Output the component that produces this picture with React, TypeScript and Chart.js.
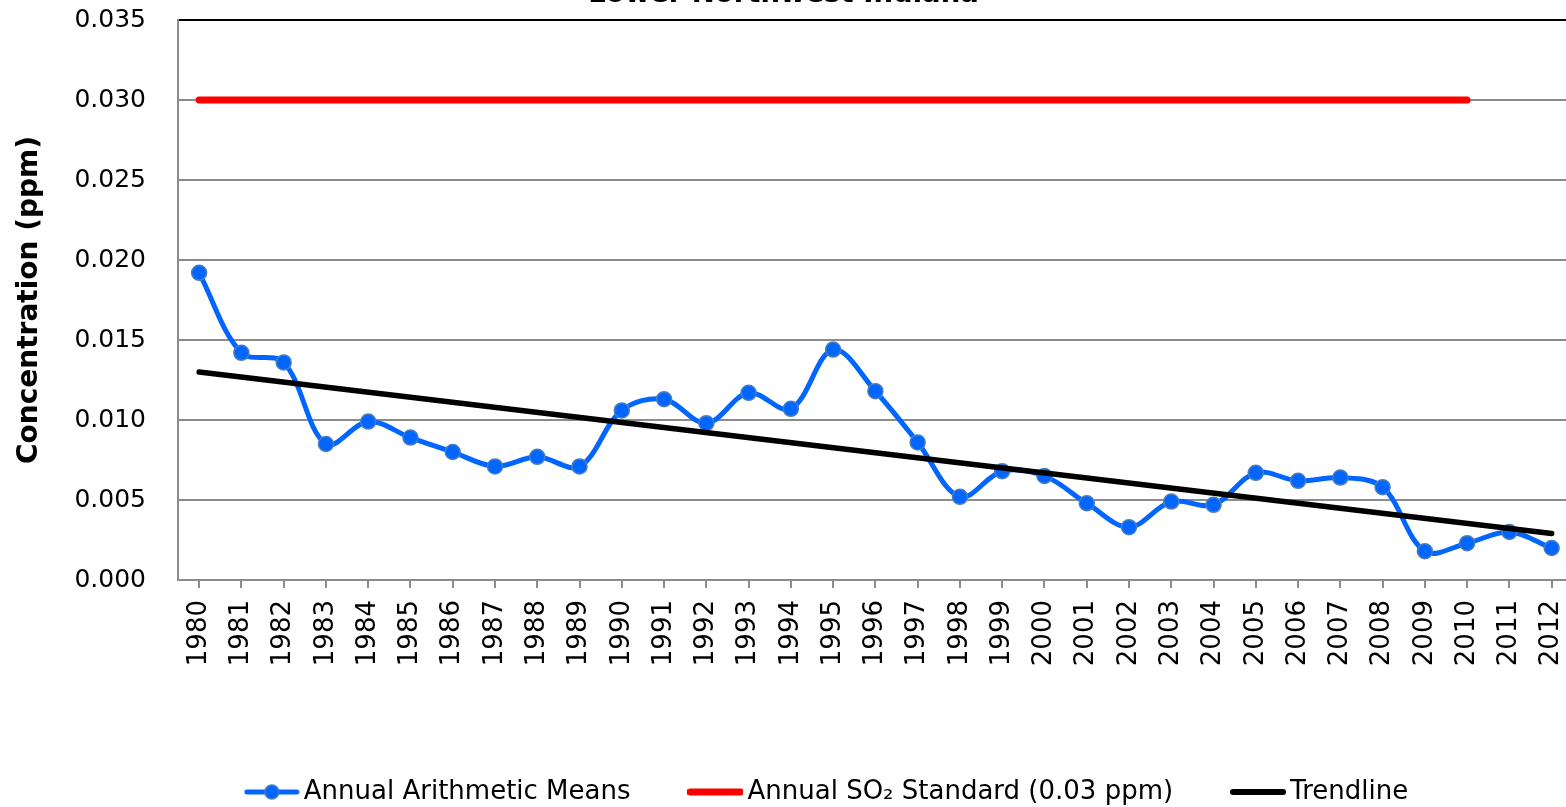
import React, { useEffect, useRef } from "react";
import { Chart, registerables } from "chart.js";

Chart.register(...registerables);

const years = ["1980","1981","1982","1983","1984","1985","1986","1987","1988","1989","1990","1991","1992","1993","1994","1995","1996","1997","1998","1999","2000","2001","2002","2003","2004","2005","2006","2007","2008","2009","2010","2011","2012"];

const annualMeans = [0.0192, 0.0142, 0.0136, 0.0085, 0.0099, 0.0089, 0.0080, 0.0071, 0.0077, 0.0071, 0.0106, 0.0113, 0.0098, 0.0117, 0.0107, 0.0144, 0.0118, 0.0086, 0.0052, 0.0068, 0.0065, 0.0048, 0.0033, 0.0049, 0.0047, 0.0067, 0.0062, 0.0064, 0.0058, 0.0018, 0.0023, 0.0030, 0.0020];

const standardYears = ["1980", "2010"];
const standardValues = [0.03, 0.03];

const trendYears = ["1980", "2012"];
const trendValues = [0.0130, 0.0029];

const yTicks = [0, 0.005, 0.01, 0.015, 0.02, 0.025, 0.03, 0.035];

const seriesNames = ["Annual Arithmetic Means", "Annual SO\u2082 Standard (0.03 ppm)", "Trendline"];
const titleText = "Lower Northwest Indiana";
const yTitle = "Concentration (ppm)";

const BLUE = "#0066FF";
const RED = "#FF0000";
const BLACK = "#000000";
const GRID = "#8c8c8c";
const FONT = "'DejaVu Sans', Verdana, sans-serif";

function makeSymbol(color: string, width: number, withMarker: boolean) {
  const c = document.createElement("canvas");
  c.width = 56;
  c.height = 20;
  const g = c.getContext("2d")!;
  g.strokeStyle = color;
  g.lineWidth = width;
  g.lineCap = "round";
  g.beginPath();
  g.moveTo(3, 10);
  g.lineTo(53, 10);
  g.stroke();
  if (withMarker) {
    g.beginPath();
    g.arc(28, 10, 7, 0, Math.PI * 2);
    g.fillStyle = BLUE;
    g.fill();
    g.lineWidth = 1.5;
    g.strokeStyle = "#4a7ebb";
    g.stroke();
  }
  return c;
}

const boxShift = {
  id: "boxShift",
  afterLayout(chart: any) {
    const l = chart.legend;
    if (l) {
      l.left += 33;
      l.right += 33;
    }
    const t = chart.titleBlock;
    if (t) {
      t.left -= 14;
      t.right -= 14;
    }
  },
};

export default function App() {
  const ref = useRef<HTMLCanvasElement>(null);

  useEffect(() => {
    if (!ref.current) return;
    const symbols = [
      makeSymbol(BLUE, 5, true),
      makeSymbol(RED, 7, false),
      makeSymbol(BLACK, 6, false),
    ];
    const chart = new Chart(ref.current, {
      type: "line",
      plugins: [boxShift],
      data: {
        labels: years,
        datasets: [
          {
            label: seriesNames[0],
            data: annualMeans,
            borderColor: BLUE,
            backgroundColor: BLUE,
            borderWidth: 5,
            tension: 0.35,
            pointRadius: 7.5,
            pointBorderWidth: 1.5,
            pointBorderColor: "#4a7ebb",
            pointBackgroundColor: BLUE,
            order: 3,
          },
          {
            label: seriesNames[1],
            data: standardYears.map((x, i) => ({ x, y: standardValues[i] })),
            borderColor: RED,
            backgroundColor: RED,
            borderWidth: 7,
            borderCapStyle: "round",
            pointRadius: 0,
            order: 1,
          },
          {
            label: seriesNames[2],
            data: trendYears.map((x, i) => ({ x, y: trendValues[i] })),
            borderColor: BLACK,
            backgroundColor: BLACK,
            borderWidth: 5.5,
            borderCapStyle: "round",
            pointRadius: 0,
            order: 2,
          },
        ],
      },
      options: {
        responsive: false,
        animation: false,
        events: [],
        layout: { padding: { left: 0, right: 0, top: 0, bottom: 15 } },
        plugins: {
          tooltip: { enabled: false },
          title: {
            display: true,
            text: titleText,
            color: "#000",
            font: { family: FONT, size: 27.5, weight: "bold" },
            padding: { top: 18, bottom: 9 },
          },
          legend: {
            display: true,
            position: "bottom",
            labels: {
              usePointStyle: true,
              pointStyleWidth: 38,
              padding: 66,
              color: "#000",
              font: { family: FONT, size: 26 },
              generateLabels: () =>
                seriesNames.map((name, i) => ({
                  text: name,
                  datasetIndex: i,
                  pointStyle: symbols[i] as any,
                  fillStyle: "transparent",
                  strokeStyle: "transparent",
                  lineWidth: 0,
                  hidden: false,
                  fontColor: "#000",
                })),
            },
          },
        },
        scales: {
          x: {
            type: "category",
            offset: true,
            afterFit: (s: any) => {
              s.height = 133;
            },
            grid: {
              offset: false,
              drawOnChartArea: false,
              drawTicks: true,
              tickLength: 8,
              color: GRID,
              lineWidth: 2,
            },
            border: { display: true, color: GRID, width: 2 },
            ticks: {
              autoSkip: false,
              minRotation: 90,
              maxRotation: 90,
              padding: 12,
              color: "#000",
              font: { family: FONT, size: 26 },
            },
          },
          y: {
            min: 0,
            max: 0.035,
            afterFit: (s: any) => {
              s.width = 178;
            },
            afterBuildTicks: (s: any) => {
              s.ticks = yTicks.map((v) => ({ value: v }));
            },
            grid: {
              drawTicks: false,
              color: (ctx: any) =>
                ctx.tick && Math.abs(ctx.tick.value - 0.035) < 1e-9 ? "#000" : GRID,
              lineWidth: 2,
            },
            border: { display: true, color: GRID, width: 2 },
            title: {
              display: true,
              text: yTitle,
              color: "#000",
              font: { family: FONT, size: 28, weight: "bold" },
              padding: { top: 13, bottom: 0 },
            },
            ticks: {
              padding: 32,
              color: "#000",
              font: { family: FONT, size: 25 },
              callback: (v: any) => Number(v).toFixed(3),
            },
          },
        },
      },
    });
    return () => chart.destroy();
  }, []);

  return (
    <div
      style={{
        position: "fixed",
        left: 0,
        top: 0,
        width: 1566,
        height: 807,
        overflow: "hidden",
        background: "#fff",
      }}
    >
      <canvas
        ref={ref}
        width={1595}
        height={870}
        style={{ position: "absolute", left: 0, top: -40, width: 1595, height: 870 }}
      />
    </div>
  );
}
